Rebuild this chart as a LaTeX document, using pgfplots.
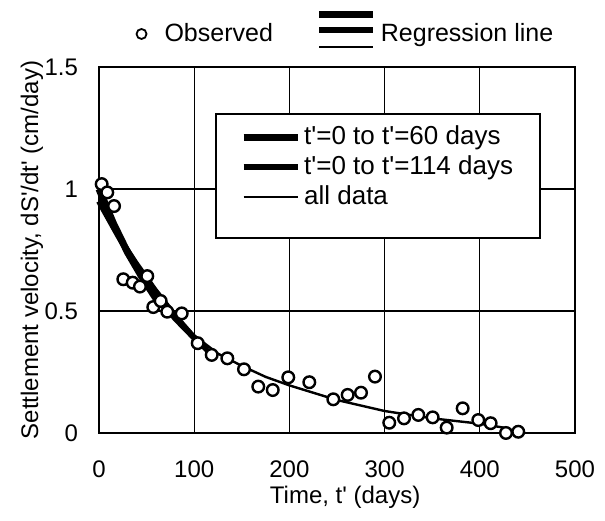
\documentclass[border=0pt]{standalone}
\usepackage{fontspec}
\setmainfont{Liberation Sans}
\newfontfamily\lsans{Liberation Sans}
\usepackage{pgfplots}
\pgfplotsset{compat=1.18}
\begin{document}
\begin{tikzpicture}[font=\lsans\fontsize{12}{14}\selectfont]
\begin{axis}[
 scale only axis, width=238pt, height=183pt,
 xmin=0, xmax=500, ymin=0, ymax=1.5,
 xtick={0,100,200,300,400,500},
 xticklabels={0,100,200,300,400,500},
 ytick={0,0.5,1,1.5},
 yticklabels={0,0.5,1,1.5},
 grid=major, major grid style={black, line width=0.6pt},
 axis line style={line width=1.3pt},
 major tick length=0pt, tick style={draw=none},
 xticklabel style={inner sep=0pt, yshift=-13.5pt},
 yticklabel style={xshift=-7pt},
 /pgf/number format/assume math mode=true,
 xlabel={Time, t' (days)},
 ylabel={Settlement velocity, dS'/dt' (cm/day)},
 xlabel style={at={(axis description cs:0.517,-0.177)}, anchor=center, inner sep=0pt},
 ylabel style={at={(axis description cs:-0.141,0.5)}, anchor=center},
 clip=false,
 legend style={at={(axis description cs:0.244,0.874)}, anchor=north west,
   draw=black, line width=1pt, fill=white, inner xsep=12pt, inner ysep=4pt,
   font=\lsans\fontsize{13}{15}\selectfont,
   nodes={inner sep=1.5pt, text height=9.5pt, text depth=2.5pt}, cells={anchor=west}},
 legend image code/.code={\draw[#1] (0pt,0pt) -- (27pt,0pt);},
]
\addplot[black, line width=3.5pt] coordinates {(0,1.0) (15,0.86) (30,0.74) (45,0.64) (60,0.55)};
\addlegendentry{t'=0 to t'=60 days}
\addplot[black, line width=3pt] coordinates {(0,0.95) (20,0.81) (40,0.68) (60,0.57) (80,0.47) (100,0.39) (114,0.34)};
\addlegendentry{t'=0 to t'=114 days}
\addplot[black, line width=1.2pt] coordinates {(0,0.96) (20,0.82) (40,0.70) (60,0.59) (80,0.49) (100,0.40) (125,0.325) (150,0.275) (175,0.23) (200,0.195) (250,0.135) (300,0.09) (350,0.06) (400,0.038) (425,0.022) (443,0.0)};
\addlegendentry{all data}
\addlegendimage{empty legend}
\addlegendentry[text height=6pt, text depth=0pt]{}
\addplot[forget plot, only marks, mark=*, mark size=2.9pt, mark options={fill=white, draw=black, line width=1.2pt}] coordinates {
(2.8,1.02) (8.7,0.986) (15.8,0.93) (25.5,0.63) (35.4,0.616) (43,0.60) (50.7,0.643) (57,0.516) (64.8,0.541) (71.7,0.497) (86.9,0.49) (103.7,0.368) (118.4,0.32) (134.8,0.306) (152.3,0.261) (167.3,0.19) (182.5,0.176) (198.8,0.228) (220.9,0.208) (246.1,0.138) (261.2,0.156) (275.2,0.165) (289.9,0.231) (304.9,0.042) (320.4,0.06) (335.4,0.074) (350.5,0.064) (365.2,0.022) (382,0.101) (398.4,0.053) (411.4,0.04) (427.5,0.0) (440.4,0.005)};
\coordinate (bbA) at (rel axis cs:-0.208,-0.238);
\coordinate (bbB) at (rel axis cs:1.063,1.183);
\end{axis}
\begin{axis}[
 scale only axis, width=238pt, height=183pt,
 xmin=0, xmax=500, ymin=0, ymax=1.5, hide axis,
 legend columns=2,
 legend style={at={(axis description cs:0.078,1.101)}, anchor=west, draw=none, fill=none,
   inner xsep=0pt, inner ysep=0pt, nodes={inner sep=2pt},
   font=\lsans\fontsize{12.5}{14}\selectfont,
   /tikz/column 1/.style={column sep=7pt},
   /tikz/every even column/.append style={column sep=19.5pt}},
]
\addlegendimage{black, only marks, mark=o, mark size=2.5pt, line width=0.9pt}
\addlegendentry{Observed}
\addlegendimage{black, legend image code/.code={
  \draw[line width=3.5pt] (0pt,9.5pt) -- (27pt,9.5pt);
  \draw[line width=2.8pt] (0pt,2pt) -- (27pt,2pt);
  \draw[line width=1.2pt] (0pt,-6.5pt) -- (27pt,-6.5pt);}}
\addlegendentry{Regression line}
\end{axis}
\pgfresetboundingbox
\useasboundingbox (bbA) rectangle (bbB);
\end{tikzpicture}
\end{document}
